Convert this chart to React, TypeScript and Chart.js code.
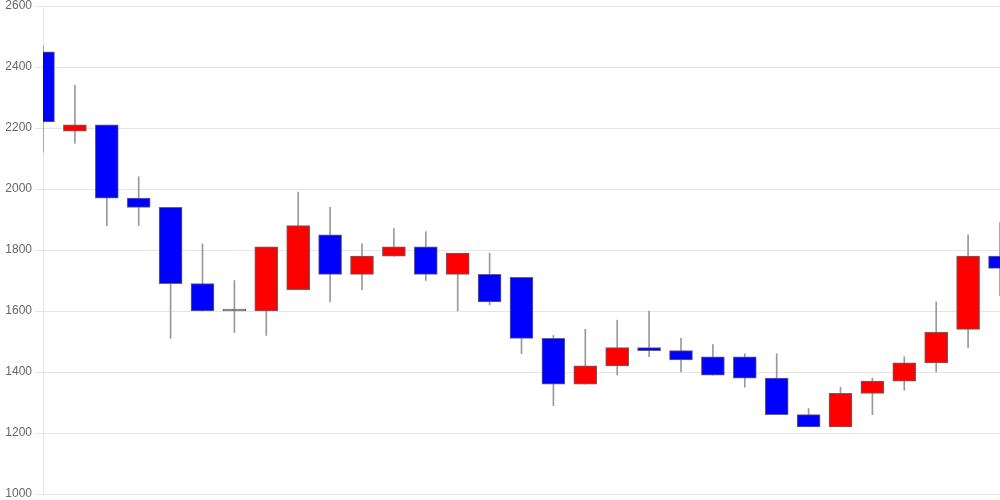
import React, { useEffect, useRef } from "react";
import { Chart, registerables } from "chart.js";

Chart.register(...registerables);

const labels: string[] = Array.from({ length: 31 }, (_, i) => String(i + 1));
const opens: number[] = [2450, 2190, 2210, 1970, 1940, 1690, 1600, 1600, 1670, 1850, 1720, 1780, 1810, 1720, 1720, 1710, 1510, 1360, 1420, 1480, 1470, 1450, 1450, 1380, 1260, 1220, 1330, 1370, 1430, 1540, 1780];
const closes: number[] = [2220, 2210, 1970, 1940, 1690, 1600, 1600, 1810, 1880, 1720, 1780, 1810, 1720, 1790, 1630, 1510, 1360, 1420, 1480, 1470, 1440, 1390, 1380, 1260, 1220, 1330, 1370, 1430, 1530, 1780, 1740];
const highs: number[] = [2470, 2340, 2210, 2040, 1940, 1820, 1700, 1810, 1990, 1940, 1820, 1870, 1860, 1790, 1790, 1710, 1520, 1540, 1570, 1600, 1510, 1490, 1460, 1460, 1280, 1350, 1380, 1450, 1630, 1850, 1890];
const lows: number[] = [2120, 2150, 1880, 1880, 1510, 1600, 1530, 1520, 1670, 1630, 1670, 1780, 1700, 1600, 1620, 1460, 1290, 1360, 1390, 1450, 1400, 1390, 1350, 1260, 1220, 1220, 1260, 1340, 1400, 1480, 1650];
const yTicks: number[] = [1000, 1200, 1400, 1600, 1800, 2000, 2200, 2400, 2600];

export default function App() {
  const ref = useRef<HTMLCanvasElement | null>(null);
  useEffect(() => {
    document.body.style.margin = "0";
    if (!ref.current) return;
    const bodies = opens.map((o, i) => [o, closes[i]]);
    const wicks = lows.map((l, i) => [l, highs[i]]);
    const colors = opens.map((o, i) =>
      closes[i] > o ? "#ff0000" : closes[i] < o ? "#0000ff" : "#777777"
    );
    const chart = new Chart(ref.current, {
      type: "bar",
      data: {
        labels,
        datasets: [
          {
            data: bodies as any,
            backgroundColor: colors,
            borderColor: "#666666",
            borderWidth: 1,
            borderSkipped: false,
            barThickness: 23,
            minBarLength: 2,
            grouped: false,
            order: 0,
          } as any,
          {
            data: wicks as any,
            backgroundColor: "#999999",
            borderWidth: 0,
            barThickness: 1,
            grouped: false,
            order: 1,
          } as any,
        ],
      },
      options: {
        animation: false,
        responsive: false,
        maintainAspectRatio: false,
        plugins: { legend: { display: false }, tooltip: { enabled: false } },
        layout: { padding: 0 },
        scales: {
          x: {
            display: false,
            offset: false,
            grid: { display: false },
          },
          y: {
            min: 1000,
            max: 2600,
            afterBuildTicks: (axis: any) => {
              axis.ticks = yTicks.map((v) => ({ value: v }));
            },
            afterFit: (axis: any) => {
              axis.width = 43;
              axis.paddingTop = 6;
              axis.paddingBottom = 6;
            },
            ticks: {
              color: "#666666",
              font: { size: 12 },
              callback: (v: any) => String(v),
            },
            grid: { color: "rgba(0,0,0,0.1)" },
            border: { color: "rgba(0,0,0,0.1)" },
          },
        },
      },
    });
    return () => chart.destroy();
  }, []);
  return <canvas ref={ref} width={1000} height={500} style={{ display: "block" }} />;
}
